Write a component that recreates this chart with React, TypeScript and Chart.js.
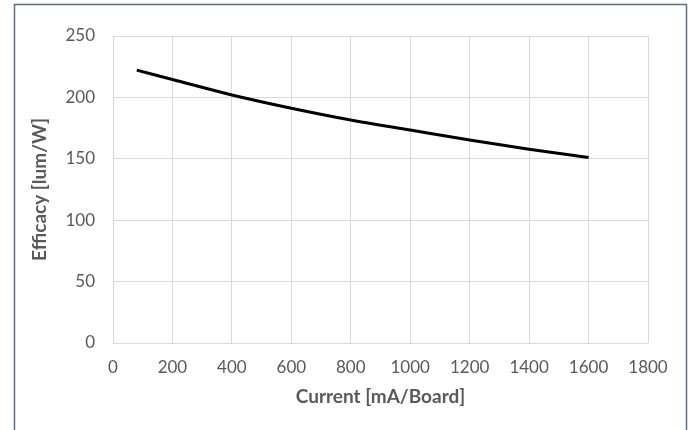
import React, { useEffect, useRef } from "react";
import { Chart, registerables } from "chart.js";

Chart.register(...registerables);

const currentMA = [80, 200, 400, 600, 800, 1000, 1200, 1400, 1600];
const efficacy = [222.2, 214.6, 202, 191.2, 181.6, 173.4, 165.3, 157.8, 151];
const xTitle = "Current [mA/Board]";
const yTitle = "Efficacy [lum/W]";

const frame = {
  id: "frame",
  afterDraw(chart: any) {
    const ctx = chart.ctx;
    ctx.save();
    ctx.strokeStyle = "#5d6d7e";
    ctx.lineWidth = 1.5;
    ctx.strokeRect(14.5, 4.5, 672, 460);
    ctx.restore();
  },
};

export default function App() {
  const ref = useRef<HTMLCanvasElement | null>(null);
  useEffect(() => {
    if (!ref.current) return;
    const tickFont = { family: "Lato", size: 17 };
    const titleFont = { family: "Lato", size: 19, weight: "bold" as const };
    const chart = new Chart(ref.current, {
      type: "line",
      data: {
        datasets: [
          {
            data: currentMA.map((x, i) => ({ x, y: efficacy[i] })),
            borderColor: "#000000",
            borderWidth: 3,
            pointRadius: 0,
            cubicInterpolationMode: "monotone",
            fill: false,
          },
        ],
      },
      options: {
        animation: false,
        responsive: false,
        maintainAspectRatio: false,
        layout: { padding: { top: 36, right: 43, left: 0, bottom: 0 } },
        plugins: { legend: { display: false }, tooltip: { enabled: false } },
        scales: {
          x: {
            type: "linear",
            min: 0,
            max: 1800,
            afterFit: (s: any) => {
              s.height = 87;
            },
            ticks: {
              stepSize: 200,
              color: "#595959",
              font: tickFont,
              padding: 14,
              callback: (v: any) => String(v),
            },
            grid: { color: "#d9d9d9", drawTicks: false, lineWidth: 1 },
            border: { display: false },
            title: {
              display: true,
              text: xTitle,
              color: "#595959",
              font: titleFont,
              padding: { top: 0, bottom: 22 },
            },
          },
          y: {
            min: 0,
            max: 250,
            afterFit: (s: any) => {
              s.width = 113;
            },
            ticks: {
              stepSize: 50,
              color: "#595959",
              font: tickFont,
              padding: 18,
              callback: (v: any) => String(v),
            },
            grid: { color: "#d9d9d9", drawTicks: false, lineWidth: 1 },
            border: { display: false },
            title: {
              display: true,
              text: yTitle,
              color: "#595959",
              font: titleFont,
              padding: { top: 28, bottom: 0 },
            },
          },
        },
      },
      plugins: [frame],
    });
    return () => chart.destroy();
  }, []);
  return (
    <div style={{ position: "absolute", left: 0, top: 0, width: 691, height: 430, background: "#fff" }}>
      <canvas ref={ref} width={691} height={430} style={{ display: "block" }} />
    </div>
  );
}
